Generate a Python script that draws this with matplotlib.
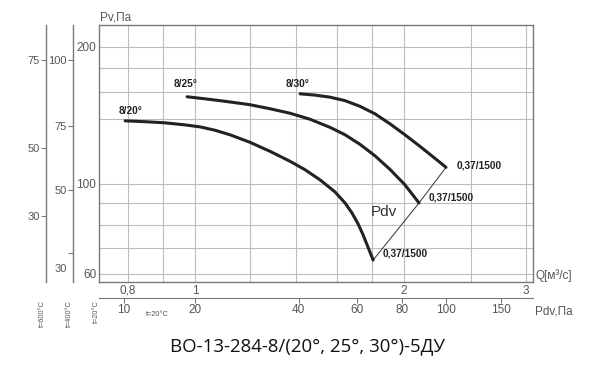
import numpy as np
import matplotlib
matplotlib.use("Agg")
from matplotlib import pyplot as plt
from matplotlib.ticker import FixedLocator, FixedFormatter, NullLocator

plt.rcParams['font.family'] = ['Liberation Sans', 'DejaVu Sans']

# fan curves: Q [m3/s] -> Pv [Pa]
q_20 = [0.793, 0.847, 0.905, 0.967, 1.017, 1.069, 1.123, 1.200, 1.283, 1.371,
        1.441, 1.514, 1.591, 1.645, 1.684, 1.718, 1.746, 1.775, 1.806]
p_20 = [138.8, 138.2, 137.4, 136.0, 134.6, 132.3, 129.3, 124.4, 118.7, 112.7,
        107.8, 102.2, 95.8, 90.2, 85.3, 80.3, 75.6, 70.4, 65.2]
q_25 = [0.974, 1.034, 1.105, 1.200, 1.283, 1.371, 1.465, 1.565, 1.645, 1.729,
        1.817, 1.910, 2.007, 2.103]
p_25 = [156.6, 155.0, 153.1, 150.5, 147.5, 144.2, 139.9, 134.3, 129.3, 123.1,
        116.0, 108.0, 99.5, 90.2]
q_30 = [1.417, 1.489, 1.565, 1.645, 1.729, 1.817, 1.910, 2.007, 2.110, 2.217, 2.300]
p_30 = [158.9, 157.9, 156.3, 153.6, 149.3, 143.8, 136.7, 129.3, 121.8, 114.5, 109.2]
curve_names = ["8/20°", "8/25°", "8/30°"]
end_label = "0,37/1500"

# Pdv line through the curve ends
pdv_q = [1.806, 2.103, 2.300]
pdv_p = [65.2, 90.2, 109.2]

q_grid = [0.8, 0.9, 1, 1.2, 1.4, 1.6, 1.8, 2, 2.5, 3]
q_labels = {0.8: "0,8", 1: "1", 2: "2", 3: "3"}
pv_grid = [60, 70, 80, 90, 100, 140, 160, 180, 200]
pv_labels = {60: "60", 100: "100", 200: "200"}

# bottom Pdv scale, tick positions given as Q
pdv_tick_q = [0.79, 1.0, 1.41, 1.71, 1.99, 2.30, 2.76]
pdv_labels = ["10", "20", "40", "60", "80", "100", "150"]

# left scales for hot gas, tick positions given as Pv at 20°C
t400_tick_pv = [188, 135, 97, 68]
t400_labels = ["100", "75", "50", ""]
t400_label30_pv = 62.2
t600_tick_pv = [188, 121, 84]
t600_labels = ["75", "50", "30"]

xlim = (0.727, 3.07)
ylim = (57.1, 222)
grey = "#555555"
line_grey = "#7a7a7a"


def fwd(p):
    return np.log10(np.asarray(p, dtype=float) + 25)


def inv(v):
    return 10 ** np.asarray(v, dtype=float) - 25


W, H = 600, 381
fig = plt.figure(figsize=(W / 100, H / 100), dpi=100)
rect = [99 / W, 1 - 282 / H, 434 / W, 257 / H]

ax = fig.add_axes(rect)
ax.set_xscale('log')
ax.set_yscale('function', functions=(fwd, inv))
ax.set_xlim(*xlim)
ax.set_ylim(*ylim)
ax.xaxis.set_major_locator(FixedLocator(q_grid))
ax.xaxis.set_major_formatter(FixedFormatter([q_labels.get(q, "") for q in q_grid]))
ax.xaxis.set_minor_locator(NullLocator())
ax.yaxis.set_major_locator(FixedLocator(pv_grid))
ax.yaxis.set_major_formatter(FixedFormatter([pv_labels.get(p, "") for p in pv_grid]))
ax.yaxis.set_minor_locator(NullLocator())
ax.tick_params(length=0, labelsize=8.5, colors=grey, pad=2)
ax.grid(True, color="#bdbdbd", lw=0.8)
for s in ax.spines.values():
    s.set_color(line_grey)
    s.set_linewidth(1.0)

for q, p in [(q_20, p_20), (q_25, p_25), (q_30, p_30)]:
    ax.plot(q, p, color="#222222", lw=2.2, solid_joinstyle='round', solid_capstyle='round', zorder=3)
ax.plot(pdv_q, pdv_p, color="#333333", lw=0.7, zorder=2)

bold = dict(fontsize=7.3, fontweight='bold', color="#222222")
offsets = [(4, 7), (-1, 9), (-2, 7)]
for (q, p), name, off in zip([(q_20, p_20), (q_25, p_25), (q_30, p_30)], curve_names, offsets):
    ax.annotate(name, (q[0], p[0]), xytext=off, textcoords='offset points',
                ha='center', va='center', **bold)
end_offsets = [(7, 5), (7, 4), (8, 1)]
for (q, p), off in zip([(q_20, p_20), (q_25, p_25), (q_30, p_30)], end_offsets):
    ax.annotate(end_label, (q[-1], p[-1]), xytext=off, textcoords='offset points',
                ha='left', va='center', **bold)
ax.text(1.87, 86, "Pdv", fontsize=11, color="#333333", ha='center', va='center')

# bottom Pdv axis
axp = fig.add_axes(rect)
axp.set_xscale('log')
axp.set_xlim(*xlim)
axp.patch.set_visible(False)
for k in ['top', 'right', 'left']:
    axp.spines[k].set_visible(False)
axp.spines['bottom'].set_position(('outward', 16 * 0.72))
axp.spines['bottom'].set_color(line_grey)
axp.yaxis.set_visible(False)
axp.xaxis.set_major_locator(FixedLocator(pdv_tick_q))
axp.xaxis.set_major_formatter(FixedFormatter(pdv_labels))
axp.xaxis.set_minor_locator(NullLocator())
axp.tick_params(axis='x', length=3.6, width=0.8, color=line_grey, labelcolor=grey,
                labelsize=8.5, pad=1)


def side_axis(outward, ticks, labels):
    a = fig.add_axes(rect)
    a.set_yscale('function', functions=(fwd, inv))
    a.set_ylim(*ylim)
    a.patch.set_visible(False)
    for k in ['top', 'right', 'bottom']:
        a.spines[k].set_visible(False)
    a.spines['left'].set_position(('outward', outward * 0.72))
    a.spines['left'].set_color(line_grey)
    a.spines['left'].set_linewidth(1.0)
    a.xaxis.set_visible(False)
    a.yaxis.set_major_locator(FixedLocator(ticks))
    a.yaxis.set_major_formatter(FixedFormatter(labels))
    a.yaxis.set_minor_locator(NullLocator())
    a.tick_params(axis='y', length=3.6, width=0.8, color=line_grey, labelcolor=grey,
                  labelsize=8, pad=1)
    return a


a400 = side_axis(26, t400_tick_pv, t400_labels)
a400.yaxis.set_minor_locator(FixedLocator([t400_label30_pv]))
a400.yaxis.set_minor_formatter(FixedFormatter(["30"]))
a400.tick_params(axis='y', which='minor', length=0, labelcolor=grey, labelsize=8, pad=4.6)
side_axis(53, t600_tick_pv, t600_labels)

# axis captions
fig.text(100 / W, 1 - 17 / H, "Pv,Па", fontsize=8.5, color=grey, ha='left', va='center')
fig.text(535 / W, 1 - 276 / H, "Q[м³/с]", fontsize=8.5, color=grey, ha='left', va='center')
fig.text(535 / W, 1 - 311 / H, "Pdv,Па", fontsize=8.5, color=grey, ha='left', va='center')
fig.text(146 / W, 1 - 314 / H, "t=20°C", fontsize=5.3, color=grey, ha='left', va='center')
for x, s in [(42, "t=600°C"), (69, "t=400°C"), (96, "t=20°C")]:
    fig.text(x / W, 1 - 300 / H, s, fontsize=5.3, color=grey, rotation=90,
             ha='center', va='top')

fig.text(307 / W, 1 - 346 / H, "ВО-13-284-8/(20°, 25°, 30°)-5ДУ", fontsize=13.4,
         family=['Open Sans', 'DejaVu Sans'], color="#111111", ha='center', va='center')

fig.savefig("out.png", dpi=100)
